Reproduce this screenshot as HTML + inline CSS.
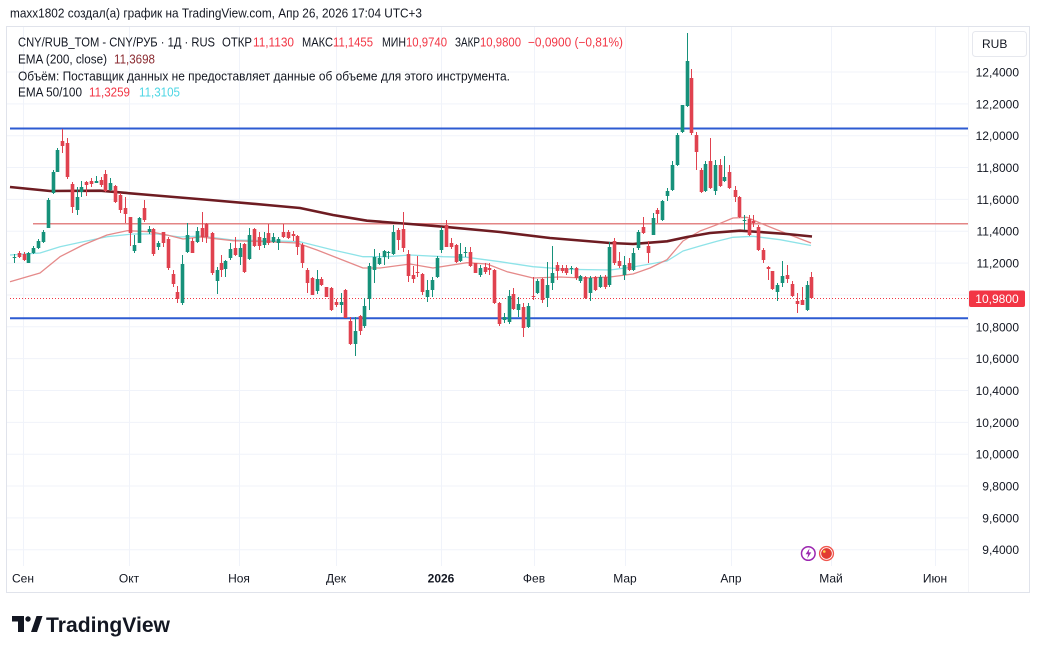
<!DOCTYPE html>
<html><head><meta charset="utf-8"><style>
html,body{margin:0;padding:0;background:#fff;}
svg{display:block;font-family:"Liberation Sans",sans-serif;}
</style></head><body>
<svg width="1040" height="654" viewBox="0 0 1040 654" xmlns="http://www.w3.org/2000/svg">
<rect width="1040" height="654" fill="#fff"/>
<text x="10" y="17.5" font-size="13" fill="#131722" textLength="412" lengthAdjust="spacingAndGlyphs">maxx1802 создал(а) график на TradingView.com, Апр 26, 2026 17:04 UTC+3</text>
<rect x="6.5" y="26.5" width="1023" height="566" fill="none" stroke="#e0e3eb"/>
<g stroke="#f0f3fa" stroke-width="1">
<path d="M7 72H968M7 103.85H968M7 135.7H968M7 167.55H968M7 199.4H968M7 231.25H968M7 263.1H968M7 294.95H968M7 326.8H968M7 358.65H968M7 390.5H968M7 422.35H968M7 454.2H968M7 486.05H968M7 517.9H968M7 549.75H968"/>
<path d="M23.5 27V566M129.5 27V566M239.5 27V566M336.5 27V566M441.5 27V566M534.5 27V566M625.5 27V566M731.5 27V566M831.5 27V566M935.5 27V566"/>
</g>
<line x1="968.5" y1="27" x2="968.5" y2="592" stroke="#f3f4f7"/>
<!-- legend -->
<g font-size="12.5" fill="#131722" lengthAdjust="spacingAndGlyphs">
<text x="18" y="46.5" textLength="197" lengthAdjust="spacingAndGlyphs">CNY/RUB_TOM - CNY/РУБ · 1Д · RUS</text>
<text x="222" y="46.5" textLength="30" lengthAdjust="spacingAndGlyphs">ОТКР</text>
<text x="253" y="46.5" textLength="41" lengthAdjust="spacingAndGlyphs" fill="#f23645">11,1130</text>
<text x="302" y="46.5" textLength="31" lengthAdjust="spacingAndGlyphs">МАКС</text>
<text x="333" y="46.5" textLength="40" lengthAdjust="spacingAndGlyphs" fill="#f23645">11,1455</text>
<text x="382" y="46.5" textLength="24" lengthAdjust="spacingAndGlyphs">МИН</text>
<text x="406" y="46.5" textLength="41" lengthAdjust="spacingAndGlyphs" fill="#f23645">10,9740</text>
<text x="455" y="46.5" textLength="25" lengthAdjust="spacingAndGlyphs">ЗАКР</text>
<text x="480" y="46.5" textLength="41" lengthAdjust="spacingAndGlyphs" fill="#f23645">10,9800</text>
<text x="528" y="46.5" textLength="95" lengthAdjust="spacingAndGlyphs" fill="#f23645">−0,0900 (−0,81%)</text>
<text x="18" y="63.5" textLength="89" lengthAdjust="spacingAndGlyphs">EMA (200, close)</text>
<text x="114" y="63.5" textLength="41" lengthAdjust="spacingAndGlyphs" fill="#8a2a30">11,3698</text>
<text x="18" y="80.5" textLength="492" lengthAdjust="spacingAndGlyphs">Объём: Поставщик данных не предоставляет данные об объеме для этого инструмента.</text>
<text x="18" y="96.5" textLength="64" lengthAdjust="spacingAndGlyphs">EMA 50/100</text>
<text x="89" y="96.5" textLength="41" lengthAdjust="spacingAndGlyphs" fill="#f23645">11,3259</text>
<text x="139" y="96.5" textLength="41" lengthAdjust="spacingAndGlyphs" fill="#4dd6e4">11,3105</text>
</g>
<!-- horizontal levels -->
<line x1="10" y1="128.5" x2="968" y2="128.5" stroke="#2d5bd2" stroke-width="2"/>
<line x1="10" y1="318.3" x2="968" y2="318.3" stroke="#2d5bd2" stroke-width="2"/>
<line x1="33" y1="223.8" x2="968" y2="223.8" stroke="#e38585" stroke-width="1.5"/>
<line x1="10" y1="298.5" x2="968" y2="298.5" stroke="#f23645" stroke-width="1" stroke-dasharray="1 2"/>
<!-- EMAs -->
<polyline fill="none" stroke="#8ee3e8" stroke-width="1.3" stroke-linejoin="round" points="10,255 40,253 60,246.7 83,241.7 107,236.7 133,234 157,234 180,237 200,236 233,240 267,240.7 300,241.7 333,250 363,256.7 387,256.7 410,255 443,256.7 467,257.3 500,261.7 533,266.7 567,269.3 610,270 633,267 667,261 683,251 700,246 717,241.3 733,237.3 753,236.3 780,239.7 811,245.5"/>
<polyline fill="none" stroke="#e58a8a" stroke-width="1.3" stroke-linejoin="round" points="10,281.7 40,273 60,256.7 83,245 107,235 127,230.7 150,231.7 167,235 183,239 200,237 233,240.7 267,241.7 297,243 317,250 340,259 363,268 380,268 410,264 433,268 467,262.7 487,264 507,271.7 533,278 560,277 583,278 610,277 633,274 650,268 667,259.7 683,241 700,231 717,224.7 733,218 747,217.3 760,223 780,231 811,243"/>
<polyline fill="none" stroke="#6e1c22" stroke-width="2.6" stroke-linejoin="round" points="10,187 50,191 100,190.7 150,195 210,200 267,205 300,208 333,215 367,220.7 410,224 443,226.7 500,232 550,238 610,243 633,244 667,241.3 687,237 710,233 740,230.7 760,232 787,234 812,236.5"/>
<!-- candles green -->
<g stroke="#16917a" fill="none" transform="translate(0.5,0)">
<path stroke-width="1" d="M14 254V263M28 252V263M33 246V254M38 239V249M43 230V243M48 198V228M53 170V194M57 148V172M77 187V215M81 181V197M96 176V183M110 178V191M134 235V253M139 217V243M149 226V234M158 241V250M182 255V305M187 223V253M197 227V243M217 267V294M225 260V277M230 243V260M240 243V265M249 228V260M264 232V248M273 233V243M278 237V250M317 270V294M341 293V313M355 317V356M364 298V328M369 263V310M374 249V283M379 253V265M384 250V265M388 251V259M393 225V255M427 280V302M432 277V297M437 256V278M441 227V253M460 243V262M465 247V257M480 265V277M504 313V323M509 290V324M518 297V317M528 303V328M537 279V294M547 262V307M552 246V290M571 266V274M580 275V283M590 276V301M600 275V288M609 242V287M624 256V280M633 248V271M638 230V250M653 213V235M662 200V221M667 188V201M672 161V191M677 133V166M682 105V133M687 33V107M705 161V192M715 160V195M724 156V182M744 215V230M777 283V301M782 261V287M807 281V311"/>
<path stroke-width="3.6" d="M14 257V258M28 253V263M33 248V253M38 241V248M43 232V242M48 200V228M53 172V193M57 150V172M77 197V210M81 187V192M96 181V183M110 183V190M134 245V251M139 218V243M149 229V232M158 243V247M182 264V303M187 235V252M197 231V242M217 270V281M225 261V269M230 249V258M240 248V257M249 235V259M264 238V245M273 237V242M278 239V243M317 279V291M341 302V305M355 331V344M364 306V326M369 266V299M374 257V270M379 258V264M384 251V257M388 252V253M393 232V254M427 290V297M432 280V290M437 258V277M441 230V250M460 254V261M465 252V253M480 268V275M504 317V320M509 296V322M518 304V310M528 306V327M537 281V293M547 285V298M552 273V283M571 268V269M580 276V281M590 278V293M600 277V287M609 247V285M624 265V275M633 253V270M638 232V248M653 218V235M662 201V220M667 191V196M672 165V190M677 135V165M682 105V132M687 61V106M705 164V191M715 165V191M724 177V181M744 220V221M777 285V292M782 276V283M807 285V310"/>
</g>
<!-- candles red -->
<g stroke="#e0424f" fill="none" transform="translate(0.5,0)">
<path stroke-width="1" d="M19 251V258M24 252V261M62 129V153M67 138V179M72 182V213M86 181V196M91 178V187M101 177V187M105 170V192M115 185V203M120 193V213M125 197V223M130 217V246M144 200V222M153 228V256M163 232V247M168 237V270M173 270V287M177 286V303M192 238V253M202 212V242M206 223V243M212 232V275M221 255V277M235 237V256M244 243V273M254 228V247M259 232V250M268 224V245M283 224V238M288 230V239M293 231V241M297 235V255M302 243V268M307 268V293M312 277V295M321 277V286M326 287V297M331 287V311M336 299V307M345 289V318M350 317V345M360 315V335M398 228V250M403 212V252M408 250V282M413 266V283M417 256V277M422 273V295M446 220V247M451 238V249M456 244V263M470 247V267M475 263V273M485 263V274M489 263V275M494 269V304M499 302V326M513 288V310M523 303V337M533 277V300M542 278V303M557 262V280M562 265V273M566 265V275M576 267V280M585 276V299M595 276V291M605 275V289M614 238V265M619 252V268M629 258V271M643 217V234M648 241V263M657 208V223M691 69V135M696 132V170M701 168V193M710 138V189M720 159V187M729 165V189M735 186V202M739 196V218M749 215V236M753 215V227M758 225V251M763 248V263M768 266V280M772 271V290M787 265V283M792 281V297M797 293V313M802 287V305M811 272V299"/>
<path stroke-width="3.6" d="M19 253V257M24 254V260M62 141V146M67 143V177M72 184V207M86 182V185M91 181V184M101 180V185M105 174V191M115 186V202M120 195V210M125 208V214M130 217V233M144 208V220M153 229V254M163 232V243M168 239V268M173 274V284M177 292V299M192 241V253M202 228V237M206 224V237M212 233V273M221 263V270M235 248V255M244 244V272M254 229V246M259 237V246M268 233V243M283 232V237M288 232V238M293 234V236M297 236V247M302 245V263M307 270V283M312 278V295M321 279V285M326 287V297M331 288V310M336 302V305M345 290V318M350 321V344M360 316V331M398 230V240M403 229V248M408 254V276M413 275V279M417 272V273M422 274V292M446 225V247M451 243V247M456 245V262M470 252V266M475 263V273M485 267V272M489 268V270M494 270V303M499 303V324M513 294V309M523 307V328M533 296V297M542 279V300M557 265V271M562 268V271M566 268V273M576 268V278M585 277V298M595 277V290M605 277V287M614 241V263M619 261V266M629 263V270M643 227V233M648 246V253M657 210V214M691 78V133M696 135V152M701 170V192M710 161V188M720 165V186M729 172V188M735 190V197M739 197V217M749 219V235M753 221V223M758 227V250M763 250V260M768 267V269M772 271V289M787 275V279M792 284V296M797 301V304M802 300V305M811 277V298"/>
</g>
<!-- price axis -->
<rect x="972.5" y="31.5" width="54" height="25" rx="3" fill="#fff" stroke="#e6e8ee"/>
<text x="982" y="48" font-size="12" fill="#131722">RUB</text>
<g font-size="12" fill="#131722" text-anchor="end">
<text x="1019" y="76.5">12,4000</text>
<text x="1019" y="108.3">12,2000</text>
<text x="1019" y="140.2">12,0000</text>
<text x="1019" y="172">11,8000</text>
<text x="1019" y="203.9">11,6000</text>
<text x="1019" y="235.7">11,4000</text>
<text x="1019" y="267.6">11,2000</text>
<text x="1019" y="299.4">11,0000</text>
<text x="1019" y="331.3">10,8000</text>
<text x="1019" y="363.1">10,6000</text>
<text x="1019" y="395">10,4000</text>
<text x="1019" y="426.8">10,2000</text>
<text x="1019" y="458.7">10,0000</text>
<text x="1019" y="490.5">9,8000</text>
<text x="1019" y="522.4">9,6000</text>
<text x="1019" y="554.2">9,4000</text>
</g>
<rect x="969" y="290.5" width="56" height="16.5" rx="2" fill="#f23645"/>
<text x="997" y="303" font-size="12" fill="#fff" text-anchor="middle">10,9800</text>
<!-- time axis -->
<g font-size="12" fill="#131722" text-anchor="middle">
<text x="23" y="582.5">Сен</text>
<text x="129" y="582.5">Окт</text>
<text x="239" y="582.5">Ноя</text>
<text x="336" y="582.5">Дек</text>
<text x="441" y="582.5" font-weight="bold">2026</text>
<text x="534" y="582.5">Фев</text>
<text x="625" y="582.5">Мар</text>
<text x="731" y="582.5">Апр</text>
<text x="831" y="582.5">Май</text>
<text x="935" y="582.5">Июн</text>
</g>
<!-- event icons -->
<circle cx="808.3" cy="553.5" r="6.8" fill="#fff" stroke="#9c27b0" stroke-width="1.5"/>
<path d="M809.6 548.3L805.6 554.3H808.2L807.2 558.6L811.3 552.4H808.7Z" fill="#9c27b0"/>
<circle cx="826.5" cy="553.5" r="7.6" fill="#f0574f"/>
<circle cx="826.5" cy="553.5" r="5.8" fill="#e23b32" stroke="#fff" stroke-width="0.9"/>
<circle cx="824.3" cy="551.5" r="1.3" fill="#ffd54f"/>
<!-- logo -->
<path d="M12 616H24V632H18V621.5H12Z" fill="#131722"/>
<circle cx="28" cy="619" r="2.7" fill="#131722"/>
<path d="M31 632L36.5 616H42.5L37 632Z" fill="#131722"/>
<text x="46" y="632" font-size="21" font-weight="bold" fill="#131722" textLength="124" lengthAdjust="spacingAndGlyphs">TradingView</text>
</svg>
</body></html>
